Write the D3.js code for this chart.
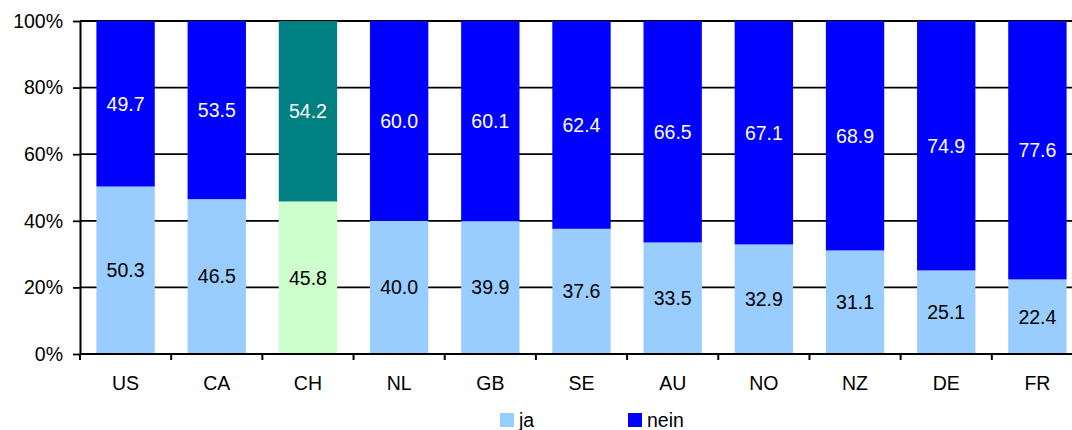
<!DOCTYPE html>
<html><head><meta charset="utf-8">
<script src="https://cdn.jsdelivr.net/npm/d3@7"></script>
<style>body{margin:0;background:#fff}svg{display:block;font-family:"Liberation Sans",Arial,sans-serif}</style>
</head><body><svg id="c" width="1072" height="430"></svg>
<script>
const categories = ["US","CA","CH","NL","GB","SE","AU","NO","NZ","DE","FR"];
const jaValues = [50.3,46.5,45.8,40.0,39.9,37.6,33.5,32.9,31.1,25.1,22.4];
const neinValues = [49.7,53.5,54.2,60.0,60.1,62.4,66.5,67.1,68.9,74.9,77.6];
const yTicks = [0,20,40,60,80,100];
const seriesNames = ["ja","nein"];
const colors = {ja:"#99CCFF", nein:"#0000FF"};
const highlight = {cat:"CH", ja:"#CCFFCC", nein:"#008080"};

(function(){
const FS = 19.5;
const svg = d3.select("#c");
const mLeft = 80, mTop = 21, mBottom = 354, mRight = 1083;
const x = d3.scaleBand().domain(categories).range([mLeft, mRight]).paddingInner(0.36).paddingOuter(0.18);
const y = d3.scaleLinear().domain([0,100]).range([mBottom, mTop]);

svg.append("g").selectAll("line").data(yTicks.filter(d=>d>0)).join("line")
  .attr("x1", mLeft).attr("x2", 1072).attr("y1", d=>y(d)).attr("y2", d=>y(d))
  .attr("stroke", "#000").attr("stroke-width", 1.8);

const data = categories.map((c,i)=>({c, ja:jaValues[i], nein:neinValues[i]}));
const g = svg.append("g");
data.forEach(d=>{
  const hl = d.c === highlight.cat;
  g.append("rect").attr("x", x(d.c)).attr("width", x.bandwidth())
    .attr("y", y(d.ja)).attr("height", y(0)-y(d.ja))
    .attr("fill", hl ? highlight.ja : colors.ja);
  g.append("rect").attr("x", x(d.c)).attr("width", x.bandwidth())
    .attr("y", y(100)).attr("height", y(d.ja)-y(100))
    .attr("fill", hl ? highlight.nein : colors.nein);
  g.append("text").attr("x", x(d.c)+x.bandwidth()/2).attr("y", y(d.ja/2))
    .attr("dy","0.35em").attr("text-anchor","middle").attr("font-size",FS)
    .attr("fill","#000").text(d.ja.toFixed(1));
  g.append("text").attr("x", x(d.c)+x.bandwidth()/2).attr("y", y(d.ja + d.nein/2))
    .attr("dy","0.35em").attr("text-anchor","middle").attr("font-size",FS)
    .attr("fill","#fff").text(d.nein.toFixed(1));
});

const ya = svg.append("g").attr("transform",`translate(${mLeft},0)`)
  .call(d3.axisLeft(y).tickValues(yTicks).tickFormat(d=>d+"%").tickSize(7).tickSizeOuter(0));
ya.select(".domain").attr("stroke","#000").attr("stroke-width",2);
ya.selectAll(".tick line").attr("stroke","#000").attr("stroke-width",1.8);
ya.selectAll("text").attr("font-size",FS).attr("fill","#000").attr("x",-17).attr("font-family","Liberation Sans, Arial, sans-serif");

const step = x.step();
const xa = svg.append("g").attr("transform",`translate(0,${mBottom})`);
xa.append("line").attr("x1",mLeft).attr("x2",1072).attr("y1",0).attr("y2",0).attr("stroke","#000").attr("stroke-width",2);
const bounds = d3.range(categories.length+1).map(i=>mLeft + i*step);
xa.selectAll("line.t").data(bounds).join("line").attr("class","t")
  .attr("x1",d=>d).attr("x2",d=>d).attr("y1",0).attr("y2",6).attr("stroke","#000").attr("stroke-width",2);
xa.selectAll("text").data(categories).join("text")
  .attr("x",d=>x(d)+x.bandwidth()/2).attr("y",29).attr("dy","0.35em")
  .attr("text-anchor","middle").attr("font-size",FS).attr("fill","#000").text(d=>d);

const leg = svg.append("g");
const legX = [500, 628];
seriesNames.forEach((s,i)=>{
  leg.append("rect").attr("x",legX[i]).attr("y",413).attr("width",14).attr("height",14).attr("fill",colors[s]);
  leg.append("text").attr("x",legX[i]+19).attr("y",420).attr("dy","0.35em").attr("font-size",FS).attr("fill","#000").text(s);
});
})();
</script></body></html>
